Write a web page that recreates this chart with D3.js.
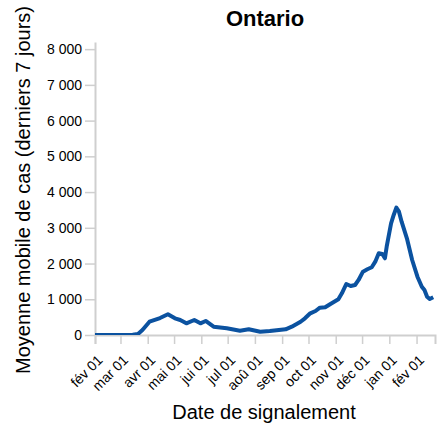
<!DOCTYPE html>
<html><head><meta charset="utf-8">
<script src="https://cdn.jsdelivr.net/npm/d3@7"></script>
<style>body{margin:0;background:#fff;} text{font-family:"Liberation Sans",Arial,sans-serif;}</style>
</head><body><svg id="c" width="445" height="430"></svg>
<script>
const title = "Ontario";
const yLabel = "Moyenne mobile de cas (derniers 7 jours)";
const xLabel = "Date de signalement";
const dates = ["2020-02-01","2020-03-01","2020-03-15","2020-03-21","2020-03-26","2020-04-03","2020-04-15","2020-04-24","2020-05-02","2020-05-08","2020-05-15","2020-05-24","2020-05-31","2020-06-06","2020-06-15","2020-06-30","2020-07-15","2020-07-25","2020-08-07","2020-08-18","2020-09-05","2020-09-12","2020-09-22","2020-09-27","2020-10-03","2020-10-09","2020-10-14","2020-10-20","2020-10-26","2020-11-04","2020-11-08","2020-11-13","2020-11-18","2020-11-23","2020-11-27","2020-12-02","2020-12-07","2020-12-12","2020-12-16","2020-12-20","2020-12-24","2020-12-27","2020-12-29","2021-01-03","2021-01-06","2021-01-09","2021-01-12","2021-01-15","2021-01-21","2021-01-27","2021-02-02","2021-02-07","2021-02-10","2021-02-13","2021-02-16","2021-02-20"];
const values = [0,0,5,30,140,372,475,580,467,420,327,420,327,392,232,188,120,160,92,110,160,232,372,467,607,672,764,775,868,999,1167,1427,1371,1400,1540,1772,1839,1895,2052,2287,2267,2147,2471,3126,3359,3564,3451,3171,2706,2099,1632,1352,1259,1072,1008,1055];
const xTickDates = ["2020-02-01","2020-03-01","2020-04-01","2020-05-01","2020-06-01","2020-07-01","2020-08-01","2020-09-01","2020-10-01","2020-11-01","2020-12-01","2021-01-01","2021-02-01"];
const xTickLabels = ["fév 01","mar 01","avr 01","mai 01","jui 01","jul 01","aoû 01","sep 01","oct 01","nov 01","déc 01","jan 01","fév 01"];
const yTicks = [0,1000,2000,3000,4000,5000,6000,7000,8000];
const xDomain = ["2020-02-01","2021-02-22"];

const parse = d3.utcParse("%Y-%m-%d");
const svg = d3.select("#c");
const L = 95, R = 435, T = 42, B = 335;
const x = d3.scaleUtc().domain(xDomain.map(parse)).range([L, R]);
const y = d3.scaleLinear().domain([0, 8200]).range([B, T]);
const axisColor = "#cfcfcf";
const fmt = d => d3.format(",")(d).replace(/,/g, " ");

// y axis
const gy = svg.append("g").attr("transform", `translate(${L},0)`)
  .call(d3.axisLeft(y).tickValues(yTicks).tickSize(10).tickSizeOuter(0).tickPadding(3).tickFormat(fmt));
gy.selectAll("text").attr("font-size", 14).attr("fill", "#000");
gy.select(".domain").attr("stroke", axisColor).attr("stroke-width", 2);
gy.selectAll(".tick line").attr("stroke", axisColor).attr("stroke-width", 1.5);

// x axis
const gx = svg.append("g").attr("transform", `translate(0,${B})`)
  .call(d3.axisBottom(x).tickValues(xTickDates.map(parse)).tickSize(9).tickSizeOuter(9)
    .tickFormat((d, i) => xTickLabels[i]));
gx.select(".domain").attr("stroke", axisColor).attr("stroke-width", 2);
gx.selectAll(".tick line").attr("stroke", axisColor).attr("stroke-width", 1.5);
gx.selectAll("text").attr("font-size", 14).attr("fill", "#000")
  .attr("text-anchor", "end").attr("x", 0).attr("y", 0).attr("dx", 0).attr("dy", 0)
  .attr("transform", "translate(8,26) rotate(-45)");

// clip
svg.append("clipPath").attr("id", "clip").append("rect")
  .attr("x", L).attr("y", T - 10).attr("width", R - L).attr("height", B - T + 10);

const data = dates.map((d, i) => ({d: parse(d), v: values[i]}));
svg.append("path").datum(data).attr("clip-path", "url(#clip)")
  .attr("fill", "none").attr("stroke", "#0b52a0").attr("stroke-width", 4)
  .attr("stroke-linejoin", "round")
  .attr("d", d3.line().x(d => x(d.d)).y(d => y(d.v)));

svg.append("text").attr("x", (L + R) / 2).attr("y", 26).attr("text-anchor", "middle")
  .attr("font-size", 22).attr("font-weight", "bold").text(title);
svg.append("text").attr("transform", `translate(30,190) rotate(-90)`)
  .attr("text-anchor", "middle").attr("font-size", 20).text(yLabel);
svg.append("text").attr("x", 264).attr("y", 419).attr("text-anchor", "middle")
  .attr("font-size", 20).text(xLabel);
</script></body></html>
